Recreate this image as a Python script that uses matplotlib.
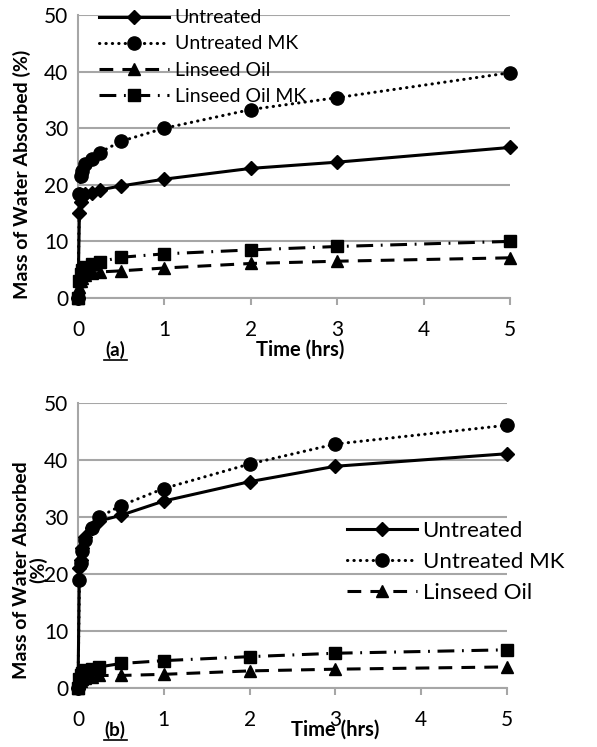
import matplotlib
matplotlib.use('Agg')
import matplotlib.pyplot as plt

plt.rcParams['font.family'] = ['Lato', 'DejaVu Sans']

# time in hours
t = [0, 1/60, 2/60, 3/60, 5/60, 10/60, 15/60, 0.5, 1, 2, 3, 5]

# panel (a)
untreated_a = [0, 15.0, 17.0, 17.8, 18.3, 18.6, 19.1, 19.8, 21.0, 22.9, 24.0, 26.6]
untreated_mk_a = [0, 18.3, 21.5, 22.5, 23.6, 24.5, 25.7, 27.7, 30.0, 33.3, 35.4, 39.8]
linseed_a = [0, 2.0, 3.0, 3.6, 4.0, 4.4, 4.6, 4.8, 5.3, 6.1, 6.5, 7.1]
linseed_mk_a = [0, 3.0, 4.2, 4.9, 5.4, 6.0, 6.4, 7.2, 7.8, 8.5, 9.1, 10.0]

# panel (b)
untreated_b = [0, 21.0, 22.5, 24.5, 26.5, 28.0, 29.3, 30.3, 32.8, 36.2, 38.9, 41.1]
untreated_mk_b = [0, 18.9, 22.0, 24.0, 26.0, 28.0, 30.0, 32.0, 35.0, 39.3, 42.8, 46.1]
linseed_b = [0, 0.8, 1.2, 1.5, 1.8, 2.0, 2.2, 2.2, 2.4, 3.0, 3.3, 3.7]
linseed_mk_b = [0, 1.5, 2.2, 2.7, 3.1, 3.4, 3.7, 4.3, 4.8, 5.5, 6.1, 6.7]

labels = ['Untreated', 'Untreated MK', 'Linseed Oil', 'Linseed Oil MK']
styles = [
    dict(ls='-', marker='D', ms=7),
    dict(ls=(0, (0.1, 2.0)), marker='o', ms=9.5, dash_capstyle='round'),
    dict(ls=(0, (4.5, 3.0)), marker='^', ms=9),
    dict(ls=(0, (5.5, 2.5, 0.6, 2.5)), marker='s', ms=8),
]

grey = '#a6a6a6'

fig = plt.figure(figsize=(5.97, 7.47), dpi=100)
ax1 = fig.add_axes([78/597, 1-298/747, 432/597, 283/747])
ax2 = fig.add_axes([78/597, 1-688/747, 429/597, 285/747])


def style_axes(ax):
    ax.set_xlim(0, 5)
    ax.set_ylim(0, 50)
    ax.set_xticks(range(6))
    ax.set_yticks(range(0, 51, 10))
    ax.grid(axis='y', color=grey, lw=1.5)
    ax.set_axisbelow(True)
    for s in ['top', 'right']:
        ax.spines[s].set_visible(False)
    ax.spines['left'].set_color(grey)
    ax.spines['bottom'].set_color(grey)
    ax.spines['left'].set_linewidth(1.5)
    ax.spines['bottom'].set_linewidth(1.5)
    ax.tick_params(axis='y', length=0, pad=7, labelsize=15)
    ax.tick_params(axis='x', length=5, width=1.5, color=grey, pad=11, labelsize=15)


for ax, data in [(ax1, [untreated_a, untreated_mk_a, linseed_a, linseed_mk_a]),
                 (ax2, [untreated_b, untreated_mk_b, linseed_b, linseed_mk_b])]:
    style_axes(ax)
    for y, lab, st in zip(data, labels, styles):
        ax.plot(t, y, color='black', lw=2.2, label=lab, clip_on=False, zorder=3, **st)

h, l = ax1.get_legend_handles_labels()
ax1.legend(h, l, loc='upper left', bbox_to_anchor=(0.048, 1.02), frameon=False,
           fontsize=14, handlelength=3.6, handletextpad=0.3, labelspacing=0.47,
           borderpad=0, borderaxespad=0)
ax2.legend(h[:3], l[:3], loc='upper left', bbox_to_anchor=(0.627, 0.585), frameon=False,
           fontsize=16, handlelength=3.15, handletextpad=0.25, labelspacing=0.48,
           borderpad=0, borderaxespad=0)

fig.text(22/597, 1-174/747, 'Mass of Water Absorbed (%)', rotation=90, ha='center', va='center',
         fontsize=14, fontweight='bold')
fig.text(30/597, 1-570/747, 'Mass of Water Absorbed\n(%)', rotation=90, ha='center', va='center',
         fontsize=14, fontweight='bold', linespacing=0.9)

fig.text(300/597, 1-350/747, 'Time (hrs)', ha='center', va='center', fontsize=14.5, fontweight='bold')
fig.text(335/597, 1-730/747, 'Time (hrs)', ha='center', va='center', fontsize=14.5, fontweight='bold')

for y, s in [(350, '(a)'), (730, '(b)')]:
    fig.text(115/597, 1-y/747, s, ha='center', va='center', fontsize=13.5, fontweight='bold')
    fig.add_artist(plt.Line2D([104/597, 127/597], [1-(y+10)/747, 1-(y+10)/747], color='black', lw=1.2))

fig.savefig('out.png', dpi=100)
